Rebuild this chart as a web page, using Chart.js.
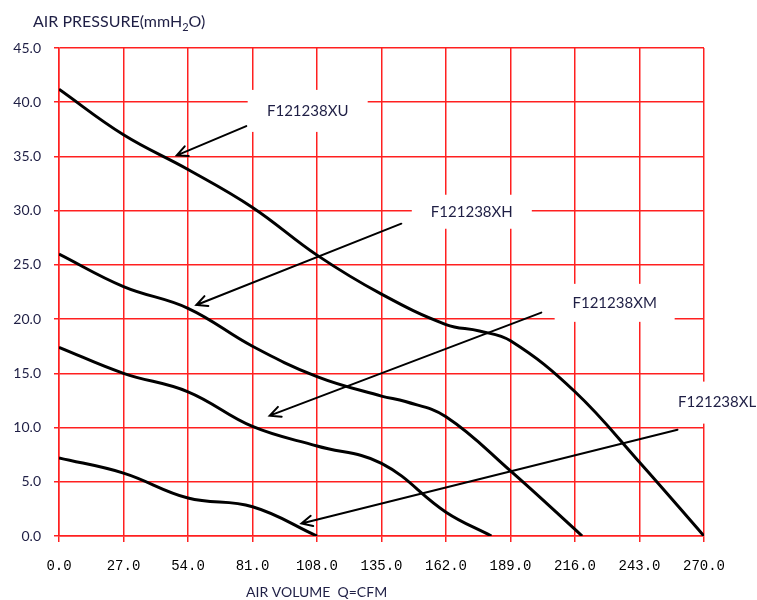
<!DOCTYPE html>
<html>
<head>
<meta charset="utf-8">
<script src="https://cdn.jsdelivr.net/npm/chart.js@4"></script>
<style>
  body { margin: 0; background: #fff; }
  #wrap { width: 757px; height: 600px; }
</style>
</head>
<body>
<div id="wrap"><canvas id="fanChart" width="757" height="600"></canvas></div>
<script>
// fan curves, air volume (CFM) vs pressure (mmH2O)
let xuFlow = [0, 27, 54, 81, 108, 135, 162, 176, 189, 216, 243, 270];
let xuPres = [41.2, 37.0, 33.8, 30.3, 25.9, 22.3, 19.5, 18.9, 18.0, 13.3, 6.8, 0];

let xhFlow = [0, 27, 54, 81, 108, 135, 145, 162, 189, 219];
let xhPres = [26.0, 23.0, 21.0, 17.5, 14.7, 12.9, 12.4, 11.0, 6.0, 0];

let xmFlow = [0, 27, 54, 81, 108, 135, 162, 181];
let xmPres = [17.4, 15.0, 13.3, 10.1, 8.3, 6.7, 2.2, 0];

let xlFlow = [0, 27, 54, 81, 108];
let xlPres = [7.2, 5.8, 3.5, 2.7, 0];

let xTicks = [0, 27, 54, 81, 108, 135, 162, 189, 216, 243, 270];
let yTicks = [0, 5, 10, 15, 20, 25, 30, 35, 40, 45];

// callout labels and arrows (data units)
let labelNames = ['F121238XU', 'F121238XH', 'F121238XM', 'F121238XL'];
let labelX = [104.1, 172.8, 232.6, 275.5];
let labelY = [39.2, 29.9, 21.5, 12.3];
let arrowFromX = [78.4, 143.3, 201.9, 258.9];
let arrowFromY = [37.8, 28.8, 20.6, 9.8];
let arrowToX = [49.3, 57.5, 88.2, 101.5];
let arrowToY = [35.1, 21.3, 11.1, 1.15];

let boxW = [120, 120, 120, 120];
let boxH = [42, 34, 38, 42];

function pts(xs, ys) {
    return xs.map((x, i) => ({ x: x, y: ys[i] }));
}

function curve(xs, ys) {
    return {
        data: pts(xs, ys),
        showLine: true,
        borderColor: '#000',
        borderWidth: 3,
        pointRadius: 0,
        tension: 0.4,
        fill: false
    };
}

const textColor = '#1f1f45';

let calloutPlugin = {
    id: 'callouts',
    beforeDatasetsDraw(chart) {
        let ctx = chart.ctx;
        let sx = chart.scales.x, sy = chart.scales.y;
        ctx.save();
        ctx.fillStyle = '#fff';
        labelNames.forEach((n, i) => {
            let cx = sx.getPixelForValue(labelX[i]);
            let cy = sy.getPixelForValue(labelY[i]);
            ctx.fillRect(cx - boxW[i] / 2, cy - boxH[i] / 2, boxW[i], boxH[i]);
        });
        ctx.restore();
    },
    afterDatasetsDraw(chart) {
        let ctx = chart.ctx;
        let sx = chart.scales.x, sy = chart.scales.y;
        ctx.save();
        // arrows
        ctx.strokeStyle = '#000';
        ctx.lineWidth = 2;
        ctx.lineCap = 'round';
        for (let i = 0; i < arrowFromX.length; i++) {
            let x1 = sx.getPixelForValue(arrowFromX[i]), y1 = sy.getPixelForValue(arrowFromY[i]);
            let x2 = sx.getPixelForValue(arrowToX[i]), y2 = sy.getPixelForValue(arrowToY[i]);
            let a = Math.atan2(y2 - y1, x2 - x1);
            ctx.beginPath();
            ctx.moveTo(x1, y1);
            ctx.lineTo(x2, y2);
            ctx.moveTo(x2 - 12 * Math.cos(a - 0.45), y2 - 12 * Math.sin(a - 0.45));
            ctx.lineTo(x2, y2);
            ctx.lineTo(x2 - 12 * Math.cos(a + 0.45), y2 - 12 * Math.sin(a + 0.45));
            ctx.stroke();
        }
        // label text
        ctx.fillStyle = textColor;
        ctx.font = '15px Lato';
        ctx.textAlign = 'center';
        ctx.textBaseline = 'middle';
        labelNames.forEach((n, i) => {
            let cx = sx.getPixelForValue(labelX[i]);
            let cy = sy.getPixelForValue(labelY[i]);
            ctx.fillText(n, cx, cy);
        });

        // axis titles
        ctx.textAlign = 'left';
        ctx.textBaseline = 'alphabetic';
        ctx.font = '16px Lato';
        let t = 'AIR PRESSURE(mmH';
        ctx.fillText(t, 33, 27);
        let w = ctx.measureText(t).width;
        ctx.font = '11px Lato';
        ctx.fillText('2', 33 + w, 31);
        let w2 = ctx.measureText('2').width;
        ctx.font = '16px Lato';
        ctx.fillText('O)', 33 + w + w2, 27);

        ctx.font = '14px Lato';
        ctx.fillText('AIR VOLUME  Q=CFM', 246, 597);
        ctx.restore();
    }
};

let fanCtx = document.getElementById('fanChart').getContext('2d');

let fanChart = new Chart(fanCtx, {
    type: 'scatter',
    data: {
        datasets: [
            curve(xuFlow, xuPres),
            curve(xhFlow, xhPres),
            curve(xmFlow, xmPres),
            curve(xlFlow, xlPres)
        ]
    },
    options: {
        responsive: false,
        animation: false,
        devicePixelRatio: 1,
        layout: { padding: { top: 48, right: 53, left: 0, bottom: 0 } },
        plugins: {
            legend: { display: false },
            tooltip: { enabled: false }
        },
        scales: {
            x: {
                type: 'linear',
                min: xTicks[0],
                max: xTicks[xTicks.length - 1],
                afterBuildTicks: (s) => { s.ticks = xTicks.map(v => ({ value: v })); },
                afterFit: (s) => { s.height = 64; },
                grid: { color: '#ff2020', lineWidth: 1.5, tickLength: 6 },
                border: { color: '#ff2020', width: 1.5 },
                ticks: {
                    color: '#000',
                    padding: 16,
                    maxRotation: 0,
                    font: { family: 'Liberation Mono', size: 14 },
                    callback: (v) => v.toFixed(1)
                }
            },
            y: {
                min: yTicks[0],
                max: yTicks[yTicks.length - 1],
                afterBuildTicks: (s) => { s.ticks = yTicks.map(v => ({ value: v })); },
                afterFit: (s) => { s.width = 59; },
                grid: { color: '#ff2020', lineWidth: 1.5, tickLength: 5 },
                border: { color: '#ff2020', width: 1.5 },
                ticks: {
                    color: textColor,
                    padding: 13,
                    font: { family: 'Lato', size: 14 },
                    callback: (v) => v.toFixed(1)
                }
            }
        }
    },
    plugins: [calloutPlugin]
});
</script>
</body>
</html>
